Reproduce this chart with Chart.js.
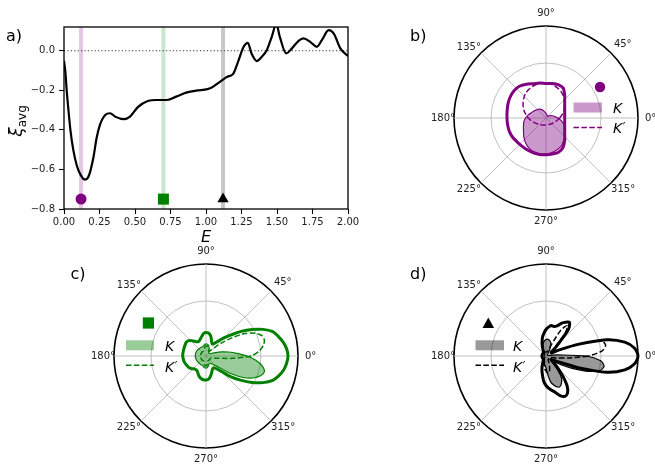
<!DOCTYPE html>
<html><head><meta charset="utf-8">
<script src="https://cdn.jsdelivr.net/npm/chart.js@4.4.1/dist/chart.umd.min.js"></script>
<style>
html,body{margin:0;padding:0;background:#fff;overflow:hidden;width:655px;height:468px;}
body{position:relative;font-family:'DejaVu Sans',sans-serif;color:#000;}
canvas{position:absolute;}
.t{position:absolute;line-height:1;white-space:nowrap;color:#000;}
.it{font-style:italic;font-size:14px;}
.pr{font-style:normal;font-size:12px;position:relative;top:-2px;margin-left:0.5px;}
#ov{position:absolute;left:0;top:0;pointer-events:none;}
</style></head><body>
<canvas id="ca" width="362" height="250" style="left:0px;top:0px"></canvas>
<canvas id="cb" width="290" height="222" style="left:401px;top:7px"></canvas>
<canvas id="cc" width="290" height="222" style="left:61px;top:245px"></canvas>
<canvas id="cd" width="290" height="222" style="left:401px;top:245px"></canvas>

<svg id="ov" width="655" height="468" xmlns="http://www.w3.org/2000/svg">
  <!-- b legend -->
  <circle cx="600" cy="87" r="5.2" fill="#800080"/>
  <rect x="573.5" y="102.5" width="28.5" height="10" fill="rgba(128,0,128,0.4)"/>
  <line x1="573.5" y1="127.5" x2="602" y2="127.5" stroke="#800080" stroke-width="1.5" stroke-dasharray="5.5 2.4"/>
  <!-- c legend -->
  <rect x="142.8" y="317.4" width="11.2" height="11.2" fill="#008000"/>
  <rect x="126" y="340.3" width="28" height="10" fill="rgba(0,128,0,0.4)"/>
  <line x1="126" y1="365.3" x2="154" y2="365.3" stroke="#008000" stroke-width="1.5" stroke-dasharray="5.5 2.4"/>
  <!-- d legend -->
  <polygon points="488.3,317.5 482.5,328 494.1,328" fill="#000"/>
  <rect x="475.5" y="340.3" width="28.5" height="10" fill="rgba(0,0,0,0.4)"/>
  <line x1="475.5" y1="365.3" x2="504" y2="365.3" stroke="#000" stroke-width="1.5" stroke-dasharray="5.5 2.4"/>
</svg>

<div class="t" style="left:6px;top:27.5px;font-size:16px">a)</div>
<div class="t" style="left:410px;top:27.5px;font-size:16px">b)</div>
<div class="t" style="left:70.5px;top:265.8px;font-size:16px">c)</div>
<div class="t" style="left:410px;top:265.8px;font-size:16px">d)</div>

<div class="t" id="ylab" style="left:17.5px;top:121px;font-size:17px;transform:translate(-50%,-50%) rotate(-90deg);"><span style="font-style:italic">ξ</span><sub style="font-size:12px;vertical-align:-4px">avg</sub></div>

<div class="t it" style="left:613px;top:100.8px">K</div>
<div class="t it" style="left:613px;top:121px">K<span class="pr">′</span></div>
<div class="t it" style="left:165px;top:338.5px">K</div>
<div class="t it" style="left:165px;top:359.5px">K<span class="pr">′</span></div>
<div class="t it" style="left:513px;top:338.5px">K</div>
<div class="t it" style="left:513px;top:359.5px">K<span class="pr">′</span></div>

<script>
// ---------- panel a data ----------
const energies = [0,0.01,0.02,0.03,0.045,0.065,0.09,0.115,0.148,0.17,0.185,0.207,0.23,0.253,0.29,0.325,0.36,0.42,0.465,0.52,0.59,0.65,0.72,0.79,0.86,0.93,1.03,1.10,1.15,1.19,1.23,1.265,1.295,1.32,1.358,1.393,1.428,1.463,1.495,1.52,1.565,1.605,1.652,1.687,1.734,1.78,1.816,1.864,1.90,1.946,2.0];
const xiAvg = [-0.05,-0.11,-0.21,-0.29,-0.40,-0.50,-0.58,-0.625,-0.652,-0.64,-0.61,-0.54,-0.44,-0.375,-0.325,-0.316,-0.333,-0.346,-0.333,-0.285,-0.254,-0.249,-0.249,-0.232,-0.212,-0.202,-0.19,-0.156,-0.131,-0.118,-0.047,0.02,0.04,-0.013,-0.052,-0.03,0.003,0.07,0.135,0.07,-0.013,0.012,0.05,0.062,0.045,0.02,0.054,0.104,0.087,0.012,-0.027];
const markerE = [0.12, 0.70, 1.12];
const markerY = -0.75;
const xTicks = [0,0.25,0.5,0.75,1.0,1.25,1.5,1.75,2.0];
const yTicks = [-0.8,-0.6,-0.4,-0.2,0.0];
const xRange = [0, 2];
const yRange = [-0.8, 0.12];

// ---------- polar data (radius units: outer ring = 92, inner ring = 55) ----------
const angles5 = [0,5,10,15,20,25,30,35,40,45,50,55,60,65,70,75,80,85,90,95,100,105,110,115,120,125,130,135,140,145,150,155,160,165,170,175,180,185,190,195,200,205,210,215,220,225,230,235,240,245,250,255,260,265,270,275,280,285,290,295,300,305,310,315,320,325,330,335,340,345,350,355];
const angles10 = [0,10,20,30,40,50,60,70,80,90,100,110,120,130,140,150,160,170,180,190,200,210,220,230,240,250,260,270,280,290,300,310,320,330,340,350];
const rRings = [0, 55, 92];
const rMax = 92;

const bTotal = [18.7,19.0,19.9,21.6,24.4,29.1,34.5,35.5,35,34.5,35.5,36.5,39,41.5,42,41.5,40.5,39.5,39,39,39,38.5,37.5,37,37,37,37,36.7,36.5,36.5,34,29.1,24.4,21.6,19.9,19.0];
const bK = [12,9,6.5,4.5,3,2.5,2.5,3,3.5,4.5,6,8,10,11.5,12.5,14,15.5,18,20.5,22.5,24,26,29,32,34.5,36,36.5,36,35,33.5,31.5,28,25,22.5,19,15.5];
const bKp = [13.7,16,18.7,21.7,24.7,27.6,30.2,32.4,33.9,34.9,35.1,34.6,33.4,31.9,29.3,26.5,23.6,20.5,17.7,15.1,12.9,11.1,9.7,8.8,8,7.4,7.1,6.9,6.9,7,7.2,7.9,8.3,9.1,10.2,11.7];

const cTotal = [82,81,78.5,75,71,63,53,43,33,26,20,16,13.5,14,16,19.5,22,23.3,23.5,23,21,19,17.5,16.5,16.5,17.5,19.5,22,23.5,24,23.8,23.5,23.3,23.2,23.2,23.3,23.3,23,22.8,22.5,22,21.5,21,20.5,19.5,18,17.2,17,17.5,19,21,22.5,23.5,24,24,23.5,22,19.5,17,15,14,14.5,17,22,32,42,53,63,71,75.5,79,81];
const cK = [41,31,23,16,10,6,4.5,4,4,4,4.5,5,6,7.5,9,10.5,11.5,12,12,12,11,10.5,10,10,10,10,10,10,10.2,10.4,10.5,10.6,10.7,10.7,10.7,10.7,10.7,10.7,10.6,10.5,10.4,10.3,10.2,10,10,10,10,10,10,10,10,10.5,11.5,12,12,12,11,10,8.5,8,8.5,9.5,11.5,14,19,31,43,52,58,60.5,57,50];
const cKp = [45,53,58,60.5,59.5,54,45,32,20,12,8,6,5.5,6,7,8.5,9.5,10,10,9.5,8.5,7,6,5.5,5.5,5.5,5.5,5.5,5.5,5.5,5.5,5.5,5.5,5.5,5.5,5.5,5.5,5.5,5.5,5.5,5.5,5.5,5.5,5.5,5.5,5.5,5.5,5.5,5.5,5.5,6,7,8.5,9.5,10,9.5,8.5,7,6,5,5,5,5,5,5,5,5,5,6,8,13,27];

const dTotal = [92,89,80,63,34,14,6,7,11,18,35,41,39,36,32,30.5,31,29,26.5,23,19.5,15,11,7.5,5,4,4,4,4,4,4,4,4,4,4,4,4,4,4,4,4,4,4,4,4,4,4,4,5,8,11.5,15.5,20,25.5,29.5,32.5,35,38,42.5,44.5,43,37,26,16,9,6,8,14,34,63,80,89];
const dK = [40,12,4,2.5,2,2,2,2,2,2,2.5,4,7,11,14,15.5,16.5,17,16.5,15.5,14,12,9,6,3.5,2,2,2,2,2,2,2,2,2,2,2,2,2,2,2,2,2,2,2,2,2,2,2,4,6,7.5,9,9.5,10,12,18,26,30,33,33.5,31,27,18,9,6,10,18,30,45,56,59,55];
const dKp = [42,56,60.5,58,35,12,5,4.5,5,12,30,37,30,12,5,4.5,4,4,4,4,4,4,4,4,4,4,4,4,4,4,4,4,4,4,4,4,4,4,4,4,4,4,4,4,4,4,4,4,4,4,4,6,9,13,15,17,17,14,10,6,4,4,4,4,4,4,4,4,5,6,11.5,23];

// ---------- panel a ----------
const fmtMinus = s => s.replace('-', '\u2212');
const frame = {
  id: 'frame',
  afterDatasetsDraw(chart) {
    const {ctx, chartArea: a} = chart;
    ctx.save();
    ctx.strokeStyle = '#000';
    ctx.lineWidth = 1.3;
    ctx.strokeRect(a.left, a.top, a.right - a.left, a.bottom - a.top);
    ctx.restore();
  }
};
const vColors = ['rgba(128,0,128,0.22)', 'rgba(0,128,0,0.2)', 'rgba(0,0,0,0.22)'];
const mColors = ['#800080', '#008000', '#000000'];
const mStyles = ['circle', 'rect', 'triangle'];
const mRadius = [5.5, 7.8, 6.5];
const datasetsA = [
  {data: energies.map((e, i) => ({x: e, y: xiAvg[i]})), showLine: true, borderColor: '#000', borderWidth: 2.2,
   pointRadius: 0, cubicInterpolationMode: 'monotone', order: 1},
  {data: xRange.map(x => ({x, y: 0})), showLine: true, borderColor: '#333', borderWidth: 1.1,
   borderDash: [1.2, 2.2], pointRadius: 0, order: 2}
];
markerE.forEach((e, i) => {
  datasetsA.push({data: yRange.map(y => ({x: e, y})), showLine: true, borderColor: vColors[i], borderWidth: 4,
    pointRadius: 0, order: 3, borderCapStyle: 'butt'});
  datasetsA.push({data: [{x: e, y: markerY}], showLine: false, pointStyle: mStyles[i], pointRadius: mRadius[i],
    backgroundColor: mColors[i], borderColor: mColors[i], borderWidth: 0, order: 0});
});
const tickFont = {size: 10, family: 'DejaVu Sans'};
new Chart(document.getElementById('ca'), {
  type: 'scatter',
  data: {datasets: datasetsA},
  options: {
    responsive: false, animation: false, devicePixelRatio: 1,
    layout: {padding: {top: 27, right: 14, left: 0, bottom: 0}},
    plugins: {legend: {display: false}, tooltip: {enabled: false}},
    scales: {
      x: {
        type: 'linear', min: xRange[0], max: xRange[1],
        afterBuildTicks: s => { s.ticks = xTicks.map(v => ({value: v})); },
        afterFit: s => { s.height = 41; },
        ticks: {callback: v => Number(v).toFixed(2), font: tickFont, color: '#222', padding: 2, maxRotation: 0, autoSkip: false},
        grid: {display: true, drawOnChartArea: false, drawTicks: true, tickLength: 5, tickColor: '#000', tickWidth: 1.1},
        border: {display: false},
        title: {display: true, text: 'E', font: {size: 16, style: 'italic', family: 'DejaVu Sans', lineHeight: 1}, color: '#000', padding: {top: 0, bottom: 4}}
      },
      y: {
        type: 'linear', min: yRange[0], max: yRange[1],
        afterBuildTicks: s => { s.ticks = yTicks.map(v => ({value: v})); },
        afterFit: s => { s.width = 64; },
        ticks: {callback: v => fmtMinus(Number(v).toFixed(1)), font: tickFont, color: '#222', padding: 4, autoSkip: false},
        grid: {display: true, drawOnChartArea: false, drawTicks: true, tickLength: 5, tickColor: '#000', tickWidth: 1.1},
        border: {display: false}
      }
    }
  },
  plugins: [frame]
});

// ---------- polar panels ----------
const N = angles5.length;
const radarOrder = angles5.map((_, j) => angles5[(N - j) % N]); // clockwise index -> CCW angle
const labelPad = {'0°': 7, '45°': 4, '90°': 7, '135°': 0, '180°': -1, '225°': 0, '270°': 5.4, '315°': 0};
function pick(angles, vals) {
  const m = new Map(angles.map((a, i) => [a, vals[i]]));
  return radarOrder.map(a => (m.has(a) ? m.get(a) : null));
}
function polar(id, angles, total, k, kp, color, fillColor, tension) {
  const common = {pointRadius: 0, pointHoverRadius: 0, tension, spanGaps: true, borderJoinStyle: 'round'};
  new Chart(document.getElementById(id), {
    type: 'radar',
    data: {
      labels: radarOrder.map(a => a + '°'),
      datasets: [
        Object.assign({data: pick(angles, total), borderColor: color, borderWidth: 3, fill: false}, common),
        Object.assign({data: pick(angles, kp), borderColor: color, borderWidth: 1.5, borderDash: [5.5, 2.4], fill: false}, common),
        Object.assign({data: pick(angles, k), borderColor: color, borderWidth: 1.2, backgroundColor: fillColor, fill: true}, common)
      ]
    },
    options: {
      responsive: false, animation: false, devicePixelRatio: 1,
      layout: {padding: 0},
      plugins: {legend: {display: false}, tooltip: {enabled: false}},
      scales: {
        r: {
          min: 0, max: rMax, startAngle: 90,
          ticks: {display: false},
          afterBuildTicks: s => { s.ticks = rRings.map(v => ({value: v})); },
          grid: {
            circular: true,
            color: c => (c.tick && c.tick.value === rMax ? '#000' : '#b0b0b0'),
            lineWidth: c => (c.tick && c.tick.value === rMax ? 1.6 : 0.8)
          },
          angleLines: {
            display: true,
            color: c => (c.label ? '#b0b0b0' : 'rgba(0,0,0,0)'),
            lineWidth: c => (c.label ? 0.8 : 0)
          },
          pointLabels: {
            display: true,
            font: {size: 10, family: 'DejaVu Sans'},
            color: '#222',
            callback: lab => (parseInt(lab, 10) % 45 === 0 ? lab : ''),
            padding: c => (labelPad[c.label] !== undefined ? labelPad[c.label] : 0)
          }
        }
      }
    }
  });
}
polar('cb', angles10, bTotal, bK, bKp, '#800080', 'rgba(128,0,128,0.4)', 0.3);
polar('cc', angles5, cTotal, cK, cKp, '#008000', 'rgba(0,128,0,0.4)', 0.25);
polar('cd', angles5, dTotal, dK, dKp, '#000000', 'rgba(0,0,0,0.4)', 0.25);
</script>
</body></html>
